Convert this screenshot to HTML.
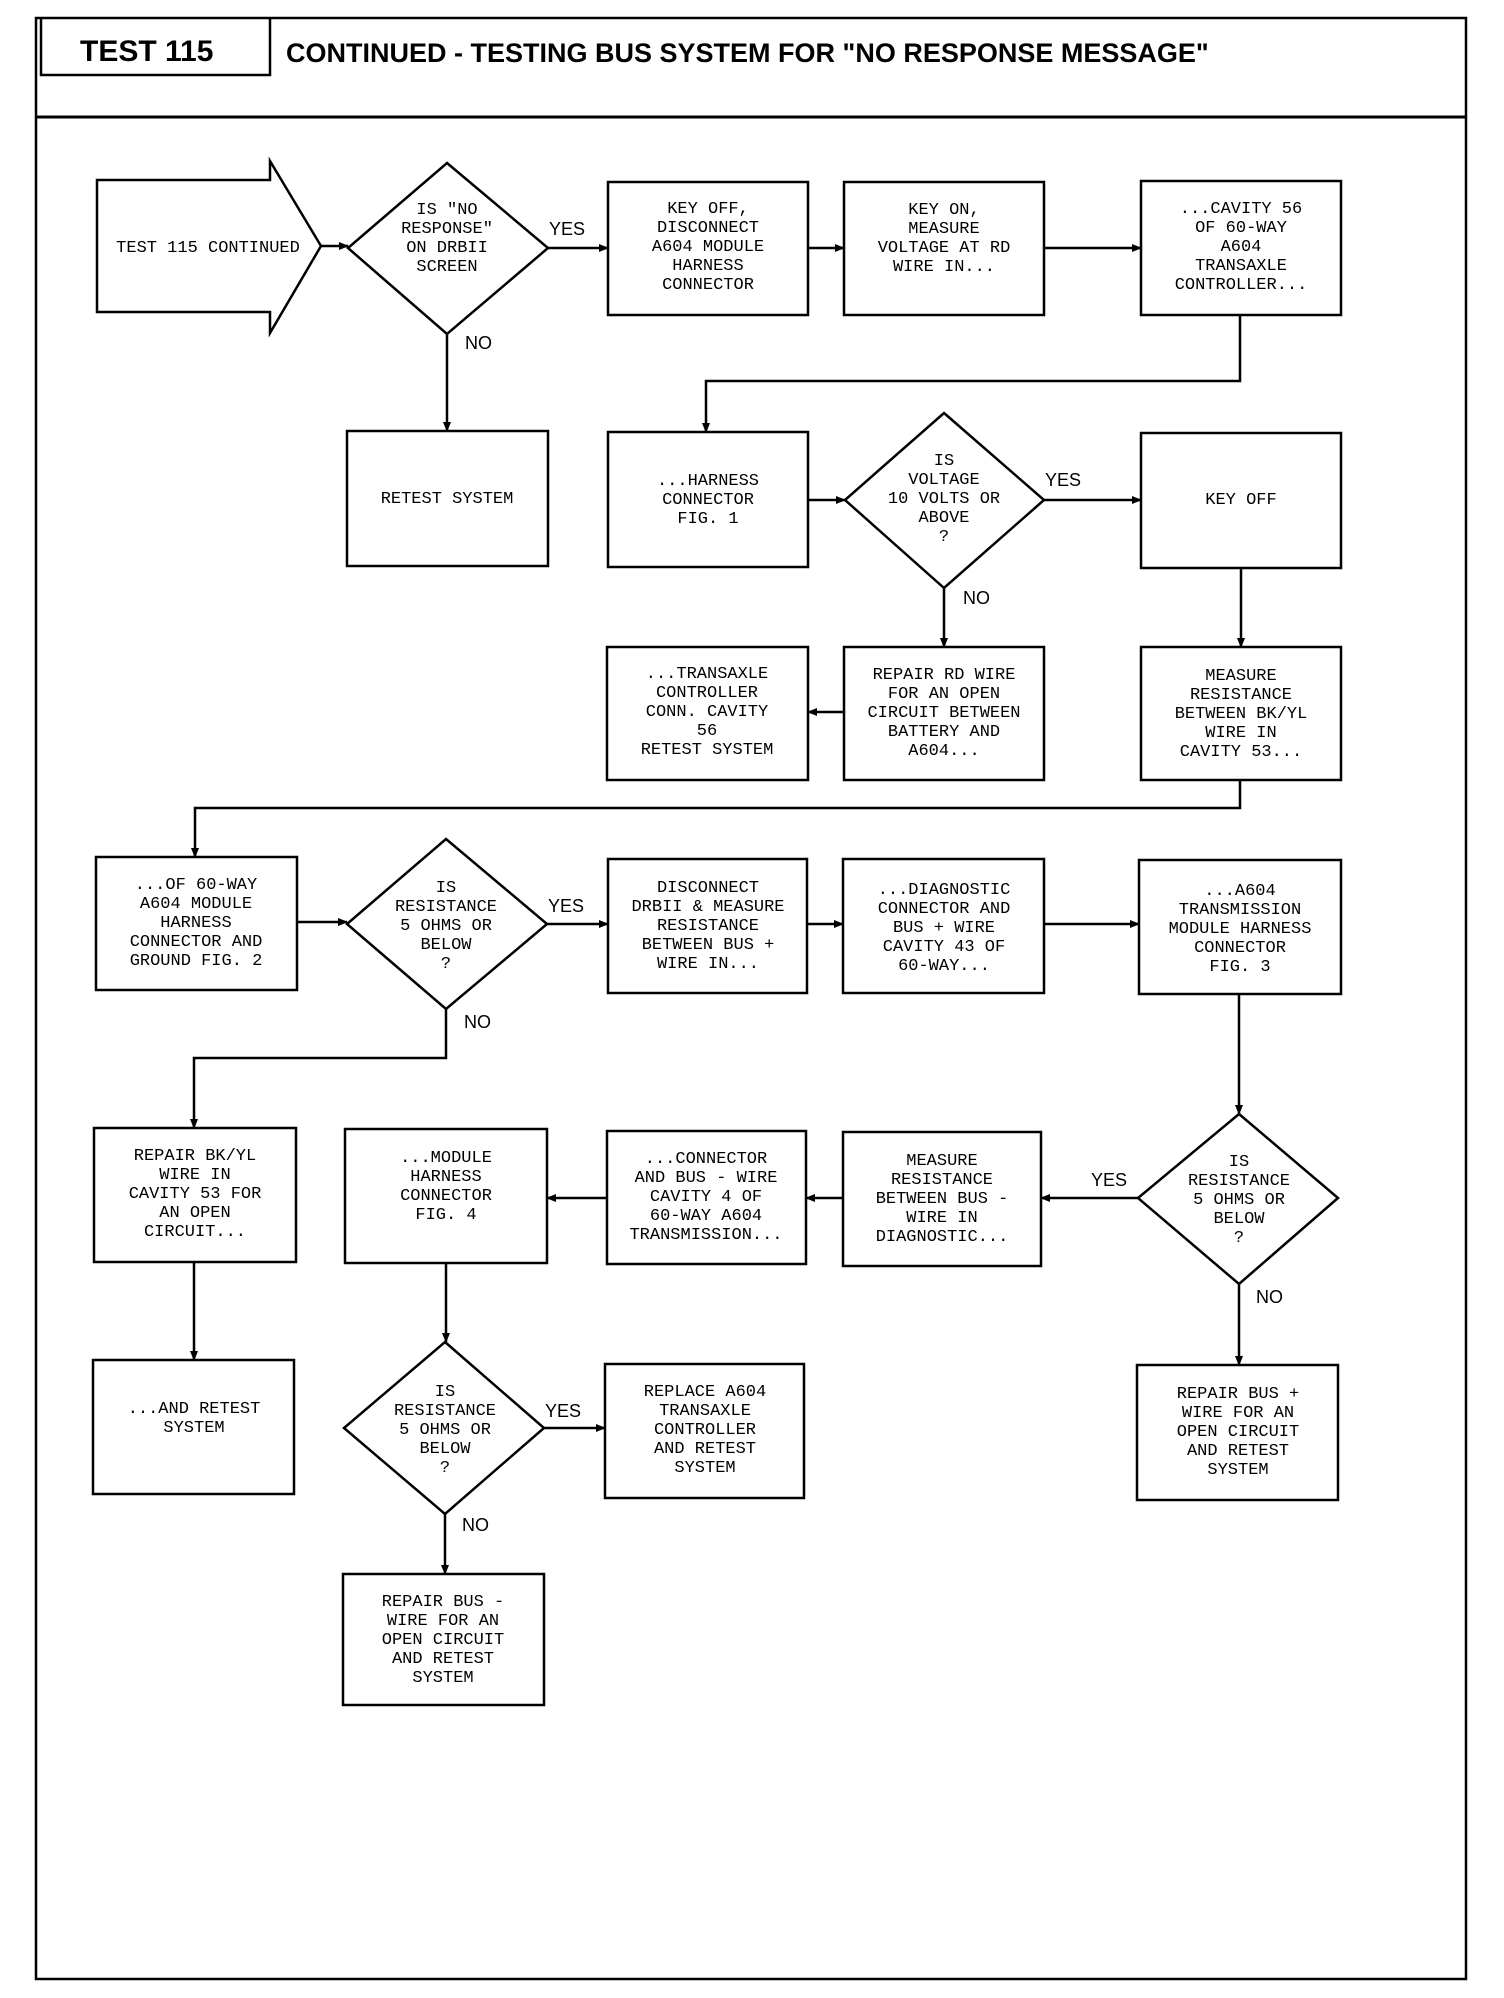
<!DOCTYPE html>
<html><head><meta charset="utf-8"><style>
html,body{margin:0;padding:0;background:#fff}
svg{display:block}
.t{font-family:"Liberation Mono",monospace;font-size:17px;fill:#000;text-anchor:middle}
.l{font-family:"Liberation Sans",sans-serif;font-size:18px;fill:#000}
</style></head><body>
<svg width="1504" height="1998" viewBox="0 0 1504 1998" xmlns="http://www.w3.org/2000/svg">
<defs><marker id="a" markerWidth="10" markerHeight="10" refX="9" refY="5" orient="auto" markerUnits="userSpaceOnUse"><path d="M0,1 L10,5 L0,9 Z" fill="#000"/></marker></defs>
<g fill="none" stroke="#000" stroke-width="2.5">
<rect x="36" y="18" width="1430" height="1961"/>
<line x1="36" y1="117" x2="1466" y2="117" stroke-width="3"/>
<polyline points="41,18 41,75 270,75 270,18"/>
<polygon points="97,180 270,180 270,161 321,246 270,333 270,312 97,312"/>
<polygon points="447,163 548,248 447,334 348,248"/>
<rect x="608" y="182" width="200" height="133"/>
<rect x="844" y="182" width="200" height="133"/>
<rect x="1141" y="181" width="200" height="134"/>
<rect x="347" y="431" width="201" height="135"/>
<rect x="608" y="432" width="200" height="135"/>
<polygon points="944,413 1044,500 944,588 845,500"/>
<rect x="1141" y="433" width="200" height="135"/>
<rect x="607" y="647" width="201" height="133"/>
<rect x="844" y="647" width="200" height="133"/>
<rect x="1141" y="647" width="200" height="133"/>
<rect x="96" y="857" width="201" height="133"/>
<polygon points="446,839 547,924 446,1009 347,924"/>
<rect x="608" y="859" width="199" height="134"/>
<rect x="843" y="859" width="201" height="134"/>
<rect x="1139" y="860" width="202" height="134"/>
<rect x="94" y="1128" width="202" height="134"/>
<rect x="345" y="1129" width="202" height="134"/>
<rect x="607" y="1131" width="199" height="133"/>
<rect x="843" y="1132" width="198" height="134"/>
<polygon points="1239,1114 1338,1198 1239,1284 1138,1198"/>
<rect x="93" y="1360" width="201" height="134"/>
<polygon points="445,1342 544,1428 445,1514 344,1428"/>
<rect x="605" y="1364" width="199" height="134"/>
<rect x="1137" y="1365" width="201" height="135"/>
<rect x="343" y="1574" width="201" height="131"/>
</g>
<g fill="none" stroke="#000" stroke-width="2.5" marker-end="url(#a)">
<line x1="321" y1="246" x2="348" y2="246"/>
<line x1="548" y1="248" x2="608" y2="248"/>
<line x1="808" y1="248" x2="844" y2="248"/>
<line x1="1044" y1="248" x2="1141" y2="248"/>
<line x1="447" y1="334" x2="447" y2="431"/>
<polyline points="1240,315 1240,381 706,381 706,432"/>
<line x1="808" y1="500" x2="845" y2="500"/>
<line x1="1044" y1="500" x2="1141" y2="500"/>
<line x1="944" y1="588" x2="944" y2="647"/>
<line x1="1241" y1="568" x2="1241" y2="647"/>
<line x1="844" y1="712" x2="808" y2="712"/>
<polyline points="1240,780 1240,808 195,808 195,857"/>
<line x1="297" y1="922" x2="347" y2="922"/>
<line x1="547" y1="924" x2="608" y2="924"/>
<line x1="807" y1="924" x2="843" y2="924"/>
<line x1="1044" y1="924" x2="1139" y2="924"/>
<polyline points="446,1009 446,1058 194,1058 194,1128"/>
<line x1="1239" y1="994" x2="1239" y2="1114"/>
<line x1="1138" y1="1198" x2="1041" y2="1198"/>
<line x1="843" y1="1198" x2="806" y2="1198"/>
<line x1="607" y1="1198" x2="547" y2="1198"/>
<line x1="194" y1="1262" x2="194" y2="1360"/>
<line x1="446" y1="1263" x2="446" y2="1342"/>
<line x1="544" y1="1428" x2="605" y2="1428"/>
<line x1="445" y1="1514" x2="445" y2="1574"/>
<line x1="1239" y1="1284" x2="1239" y2="1365"/>
</g>
<text x="80" y="61" font-family="Liberation Sans,sans-serif" font-weight="bold" font-size="30">TEST 115</text>
<text x="286" y="62" font-family="Liberation Sans,sans-serif" font-weight="bold" font-size="27">CONTINUED - TESTING BUS SYSTEM FOR "NO RESPONSE MESSAGE"</text>
<g class="t">
<text x="208" y="252">TEST 115 CONTINUED</text>
<text x="447" y="214">IS "NO</text><text x="447" y="233">RESPONSE"</text><text x="447" y="252">ON DRBII</text><text x="447" y="271">SCREEN</text>
<text x="708" y="213">KEY OFF,</text><text x="708" y="232">DISCONNECT</text><text x="708" y="251">A604 MODULE</text><text x="708" y="270">HARNESS</text><text x="708" y="289">CONNECTOR</text>
<text x="944" y="214">KEY ON,</text><text x="944" y="233">MEASURE</text><text x="944" y="252">VOLTAGE AT RD</text><text x="944" y="271">WIRE IN...</text>
<text x="1241" y="213">...CAVITY 56</text><text x="1241" y="232">OF 60-WAY</text><text x="1241" y="251">A604</text><text x="1241" y="270">TRANSAXLE</text><text x="1241" y="289">CONTROLLER...</text>
<text x="447" y="503">RETEST SYSTEM</text>
<text x="708" y="485">...HARNESS</text><text x="708" y="504">CONNECTOR</text><text x="708" y="523">FIG. 1</text>
<text x="944" y="465">IS</text><text x="944" y="484">VOLTAGE</text><text x="944" y="503">10 VOLTS OR</text><text x="944" y="522">ABOVE</text><text x="944" y="541">?</text>
<text x="1241" y="504">KEY OFF</text>
<text x="707" y="678">...TRANSAXLE</text><text x="707" y="697">CONTROLLER</text><text x="707" y="716">CONN. CAVITY</text><text x="707" y="735">56</text><text x="707" y="754">RETEST SYSTEM</text>
<text x="944" y="679">REPAIR RD WIRE</text><text x="944" y="698">FOR AN OPEN</text><text x="944" y="717">CIRCUIT BETWEEN</text><text x="944" y="736">BATTERY AND</text><text x="944" y="755">A604...</text>
<text x="1241" y="680">MEASURE</text><text x="1241" y="699">RESISTANCE</text><text x="1241" y="718">BETWEEN BK/YL</text><text x="1241" y="737">WIRE IN</text><text x="1241" y="756">CAVITY 53...</text>
<text x="196" y="889">...OF 60-WAY</text><text x="196" y="908">A604 MODULE</text><text x="196" y="927">HARNESS</text><text x="196" y="946">CONNECTOR AND</text><text x="196" y="965">GROUND FIG. 2</text>
<text x="446" y="892">IS</text><text x="446" y="911">RESISTANCE</text><text x="446" y="930">5 OHMS OR</text><text x="446" y="949">BELOW</text><text x="446" y="968">?</text>
<text x="708" y="892">DISCONNECT</text><text x="708" y="911">DRBII &amp; MEASURE</text><text x="708" y="930">RESISTANCE</text><text x="708" y="949">BETWEEN BUS +</text><text x="708" y="968">WIRE IN...</text>
<text x="944" y="894">...DIAGNOSTIC</text><text x="944" y="913">CONNECTOR AND</text><text x="944" y="932">BUS + WIRE</text><text x="944" y="951">CAVITY 43 OF</text><text x="944" y="970">60-WAY...</text>
<text x="1240" y="895">...A604</text><text x="1240" y="914">TRANSMISSION</text><text x="1240" y="933">MODULE HARNESS</text><text x="1240" y="952">CONNECTOR</text><text x="1240" y="971">FIG. 3</text>
<text x="195" y="1160">REPAIR BK/YL</text><text x="195" y="1179">WIRE IN</text><text x="195" y="1198">CAVITY 53 FOR</text><text x="195" y="1217">AN OPEN</text><text x="195" y="1236">CIRCUIT...</text>
<text x="446" y="1162">...MODULE</text><text x="446" y="1181">HARNESS</text><text x="446" y="1200">CONNECTOR</text><text x="446" y="1219">FIG. 4</text>
<text x="706" y="1163">...CONNECTOR</text><text x="706" y="1182">AND BUS - WIRE</text><text x="706" y="1201">CAVITY 4 OF</text><text x="706" y="1220">60-WAY A604</text><text x="706" y="1239">TRANSMISSION...</text>
<text x="942" y="1165">MEASURE</text><text x="942" y="1184">RESISTANCE</text><text x="942" y="1203">BETWEEN BUS -</text><text x="942" y="1222">WIRE IN</text><text x="942" y="1241">DIAGNOSTIC...</text>
<text x="1239" y="1166">IS</text><text x="1239" y="1185">RESISTANCE</text><text x="1239" y="1204">5 OHMS OR</text><text x="1239" y="1223">BELOW</text><text x="1239" y="1242">?</text>
<text x="194" y="1413">...AND RETEST</text><text x="194" y="1432">SYSTEM</text>
<text x="445" y="1396">IS</text><text x="445" y="1415">RESISTANCE</text><text x="445" y="1434">5 OHMS OR</text><text x="445" y="1453">BELOW</text><text x="445" y="1472">?</text>
<text x="705" y="1396">REPLACE A604</text><text x="705" y="1415">TRANSAXLE</text><text x="705" y="1434">CONTROLLER</text><text x="705" y="1453">AND RETEST</text><text x="705" y="1472">SYSTEM</text>
<text x="1238" y="1398">REPAIR BUS +</text><text x="1238" y="1417">WIRE FOR AN</text><text x="1238" y="1436">OPEN CIRCUIT</text><text x="1238" y="1455">AND RETEST</text><text x="1238" y="1474">SYSTEM</text>
<text x="443" y="1606">REPAIR BUS -</text><text x="443" y="1625">WIRE FOR AN</text><text x="443" y="1644">OPEN CIRCUIT</text><text x="443" y="1663">AND RETEST</text><text x="443" y="1682">SYSTEM</text>
</g>
<g class="l">
<text x="549" y="235">YES</text><text x="465" y="349">NO</text>
<text x="1045" y="486">YES</text><text x="963" y="604">NO</text>
<text x="548" y="912">YES</text><text x="464" y="1028">NO</text>
<text x="1091" y="1186">YES</text><text x="1256" y="1303">NO</text>
<text x="545" y="1417">YES</text><text x="462" y="1531">NO</text>
</g>
</svg>
</body></html>
